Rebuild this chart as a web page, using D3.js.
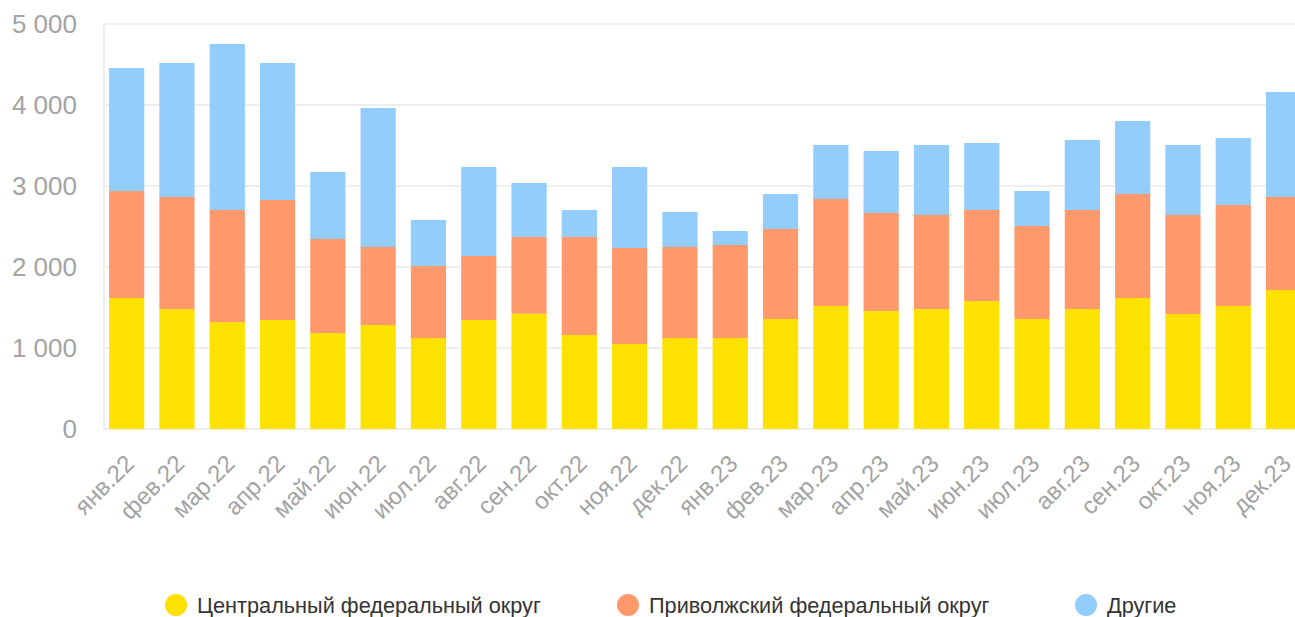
<!DOCTYPE html>
<html>
<head>
<meta charset="utf-8">
<script src="https://cdn.jsdelivr.net/npm/d3@7"></script>
<style>
  body { margin: 0; background: #fff; }
  svg { display: block; font-family: "Liberation Sans", Arial, sans-serif; }
</style>
</head>
<body>
<svg id="chart" width="1295" height="617"></svg>
<script>
// Months (x categories)
var months = ['янв.22', 'фев.22', 'мар.22', 'апр.22', 'май.22', 'июн.22', 'июл.22', 'авг.22',
    'сен.22', 'окт.22', 'ноя.22', 'дек.22', 'янв.23', 'фев.23', 'мар.23', 'апр.23',
    'май.23', 'июн.23', 'июл.23', 'авг.23', 'сен.23', 'окт.23', 'ноя.23', 'дек.23'];

// Series values
var central = [1617, 1480, 1320, 1346, 1185, 1284, 1123, 1346, 1424, 1160, 1049, 1123,
    1123, 1358, 1519, 1457, 1481, 1580, 1358, 1481, 1617, 1420, 1519, 1716];
var volga = [1321, 1384, 1384, 1481, 1161, 963, 889, 790, 946, 1210, 1186, 1124,
    1149, 1111, 1321, 1210, 1161, 1124, 1148, 1223, 1284, 1222, 1246, 1148];
var others = [1519, 1655, 2049, 1692, 827, 1716, 568, 1099, 667, 334, 1000, 432,
    172, 432, 666, 765, 864, 827, 432, 864, 901, 864, 828, 1296];

var seriesNames = ['Центральный федеральный округ', 'Приволжский федеральный округ', 'Другие'];
var seriesKeys = ['central', 'volga', 'others'];
var colors = ['#fde100', '#ff996c', '#92cdfd'];
var yTicks = [0, 1000, 2000, 3000, 4000, 5000];

/* Build rows for the stack */
var rows = months.map(function (m, i) {
    return { month: m, central: central[i], volga: volga[i], others: others[i] };
});

var svg = d3.select('#chart');

var plot = { left: 104, right: 1295, top: 24, bottom: 429 };

var x = d3.scaleBand()
    .domain(months)
    .range([101.5, 101.5 + 24 * 50.3])
    .paddingInner(0.3)
    .paddingOuter(0.15);

var y = d3.scaleLinear()
    .domain([0, 5000])
    .range([plot.bottom, plot.top]);

// Grid
var grid = svg.append('g').attr('class', 'grid');
grid.selectAll('line.h')
    .data(yTicks)
    .enter()
    .append('line')
    .attr('class', 'h')
    .attr('x1', plot.left)
    .attr('x2', plot.right)
    .attr('y1', function (d) { return y(d); })
    .attr('y2', function (d) { return y(d); })
    .attr('stroke', '#efefef')
    .attr('stroke-width', 2);

grid.append('line')
    .attr('x1', plot.left)
    .attr('x2', plot.left)
    .attr('y1', y(5000))
    .attr('y2', y(0))
    .attr('stroke', '#efefef')
    .attr('stroke-width', 2);

// Y labels
var yAxis = d3.axisLeft(y)
    .tickValues(yTicks)
    .tickSize(0)
    .tickPadding(0)
    .tickFormat(function (d) { return d3.format(',')(d).replace(/,/g, ' '); });

var yg = svg.append('g')
    .attr('transform', 'translate(77,0)')
    .call(yAxis);
yg.select('.domain').remove();
yg.selectAll('text')
    .attr('fill', '#a3a3a3')
    .attr('font-size', 26)
    .attr('font-family', '"Liberation Sans", Arial, sans-serif');

// Bars
var stack = d3.stack().keys(seriesKeys);
var layers = stack(rows);

svg.append('g')
    .selectAll('g.layer')
    .data(layers)
    .enter()
    .append('g')
    .attr('class', 'layer')
    .attr('fill', function (d, i) { return colors[i]; })
    .selectAll('rect')
    .data(function (d) { return d; })
    .enter()
    .append('rect')
    .attr('x', function (d) { return x(d.data.month); })
    .attr('width', x.bandwidth())
    .attr('y', function (d) { return y(d[1]); })
    .attr('height', function (d) { return y(d[0]) - y(d[1]); });

// X labels
var xAxis = d3.axisBottom(x).tickSize(0).tickPadding(0);
var xg = svg.append('g')
    .attr('transform', 'translate(0,' + plot.bottom + ')')
    .call(xAxis);
xg.select('.domain').remove();
xg.selectAll('text')
    .attr('fill', '#a3a3a3')
    .attr('font-size', 24)
    .attr('font-family', '"Liberation Sans", Arial, sans-serif')
    .attr('text-anchor', 'end')
    .attr('dy', null)
    .attr('y', 0)
    .attr('transform', 'translate(9,36) rotate(-45)');

// Legend
var legendX = [176, 628, 1086];
var legend = svg.append('g')
    .selectAll('g.item')
    .data(seriesNames)
    .enter()
    .append('g')
    .attr('class', 'item')
    .attr('transform', function (d, i) { return 'translate(' + legendX[i] + ',605)'; });

legend.append('circle')
    .attr('r', 11)
    .attr('fill', function (d, i) { return colors[i]; });

legend.append('text')
    .attr('x', 21)
    .attr('dy', '0.35em')
    .attr('fill', '#333')
    .attr('font-size', 21.7)
    .text(function (d) { return d; });
</script>
</body>
</html>
